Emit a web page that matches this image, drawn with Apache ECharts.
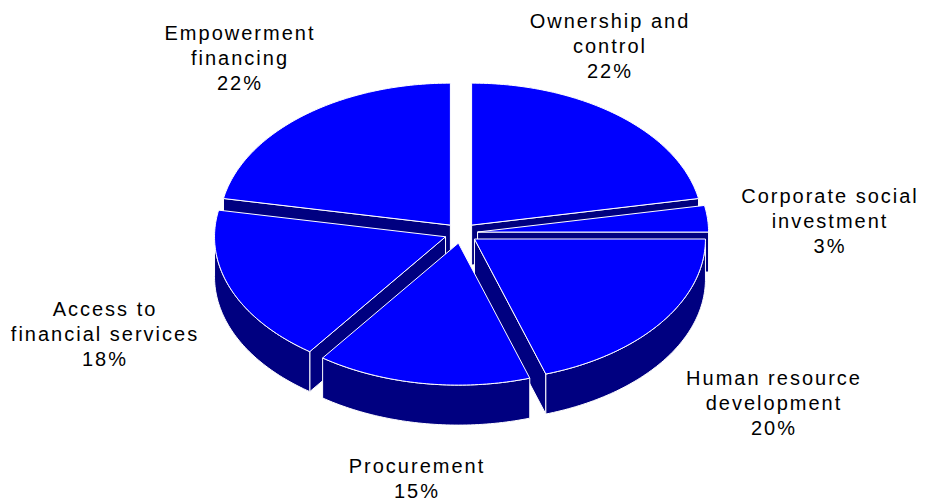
<!DOCTYPE html>
<html>
<head>
<meta charset="utf-8">
<script src="https://cdn.jsdelivr.net/npm/echarts@6/dist/echarts.min.js"></script>
<style>
  html, body { margin: 0; padding: 0; background: #ffffff; }
  #chart { width: 928px; height: 500px; }
  #chart text { letter-spacing: 2px; }
</style>
</head>
<body>
<div id="chart"></div>
<script>
// Slice names (with their line breaks) and shares in percent, clockwise from 12 o'clock
const categories = [
  'Ownership and\ncontrol',
  'Corporate social\ninvestment',
  'Human resource\ndevelopment',
  'Procurement',
  'Access to\nfinancial services',
  'Empowerment\nfinancing'
];
const shares = [22, 3, 20, 15, 18, 22];

// Disc geometry (pixels)
const CX = 461, CY = 233;      // centre of the top face
const RX = 231, RY = 142;      // radii of the top ellipse
const DEPTH = 40;              // thickness of the disc
const EXPLODE = 0.072;         // radial offset of every slice, as a share of the radius

// Centre of each label block, in slice order
const LABEL_CENTERS = [[610, 46], [830, 221], [774, 403], [417, 478], [105, 334], [240, 58]];

const TOP_COLOR = '#0000ff';
const SIDE_COLOR = '#000080';
const EDGE_COLOR = '#ffffff';

const total = shares.reduce((a, b) => a + b, 0);
const startAngles = [];
{
  let acc = 0;
  shares.forEach(v => { startAngles.push(acc / total * 360); acc += v; });
}
const rad = d => d * Math.PI / 180;
const midAngle = i => startAngles[i] + shares[i] / total * 180;

// Painter's order: slices further back are drawn first
const order = shares.map((_, i) => i).sort((a, b) => (-Math.cos(rad(midAngle(a)))) - (-Math.cos(rad(midAngle(b)))));
const drawRank = [];
order.forEach((idx, r) => { drawRank[idx] = r; });

function rimPoint(ox, oy, deg, dy) {
  return [ox + RX * Math.sin(rad(deg)), oy - RY * Math.cos(rad(deg)) + (dy || 0)];
}
function arcPoints(ox, oy, a, b, dy) {
  const n = Math.max(2, Math.ceil(Math.abs(b - a)));
  const pts = [];
  for (let k = 0; k <= n; k++) pts.push(rimPoint(ox, oy, a + (b - a) * k / n, dy));
  return pts;
}
function face(points, fill, z2) {
  return {
    type: 'polygon',
    z2: z2,
    shape: { points: points },
    style: { fill: fill, stroke: EDGE_COLOR, lineWidth: 1, lineJoin: 'round' }
  };
}

function renderSlice(params, api) {
  const i = params.dataIndex;
  const v = api.value(0);
  const a0 = startAngles[i];
  const a1 = a0 + v / total * 360;
  const mid = (a0 + a1) / 2;
  const ox = CX + EXPLODE * RX * Math.sin(rad(mid));
  const oy = CY - EXPLODE * RY * Math.cos(rad(mid));
  const base = drawRank[i] * 10;
  const children = [];

  // Radial side faces that turn towards the viewer
  if (Math.sin(rad(a0)) < -1e-6) {
    const r = rimPoint(ox, oy, a0);
    children.push(face([[ox, oy], r, [r[0], r[1] + DEPTH], [ox, oy + DEPTH]], SIDE_COLOR, base + 1));
  }
  if (Math.sin(rad(a1)) > 1e-6) {
    const r = rimPoint(ox, oy, a1);
    children.push(face([[ox, oy], r, [r[0], r[1] + DEPTH], [ox, oy + DEPTH]], SIDE_COLOR, base + 1));
  }
  // Curved outer wall on the front half of the disc
  const w0 = Math.max(a0, 90), w1 = Math.min(a1, 270);
  if (w1 > w0) {
    const top = arcPoints(ox, oy, w0, w1, 0);
    const bottom = arcPoints(ox, oy, w0, w1, DEPTH).reverse();
    children.push(face(top.concat(bottom), SIDE_COLOR, base + 2));
  }
  // Top face
  children.push(face([[ox, oy]].concat(arcPoints(ox, oy, a0, a1, 0)), TOP_COLOR, base + 3));

  // Category label with its share
  const c = LABEL_CENTERS[i];
  children.push({
    type: 'text',
    z2: 1000,
    x: c[0],
    y: c[1],
    style: {
      text: categories[i] + '\n' + v + '%',
      fill: '#000000',
      fontSize: 20,
      fontFamily: 'Liberation Sans, Arial, sans-serif',
      lineHeight: 25,
      align: 'center',
      verticalAlign: 'middle'
    }
  });

  return { type: 'group', children: children };
}

const chart = echarts.init(document.getElementById('chart'), null, { renderer: 'svg' });
chart.setOption({
  backgroundColor: '#ffffff',
  animation: false,
  series: [{
    type: 'custom',
    coordinateSystem: 'none',
    silent: true,
    renderItem: renderSlice,
    data: shares.map((v, i) => ({ name: categories[i], value: [v] }))
  }]
});
</script>
</body>
</html>
